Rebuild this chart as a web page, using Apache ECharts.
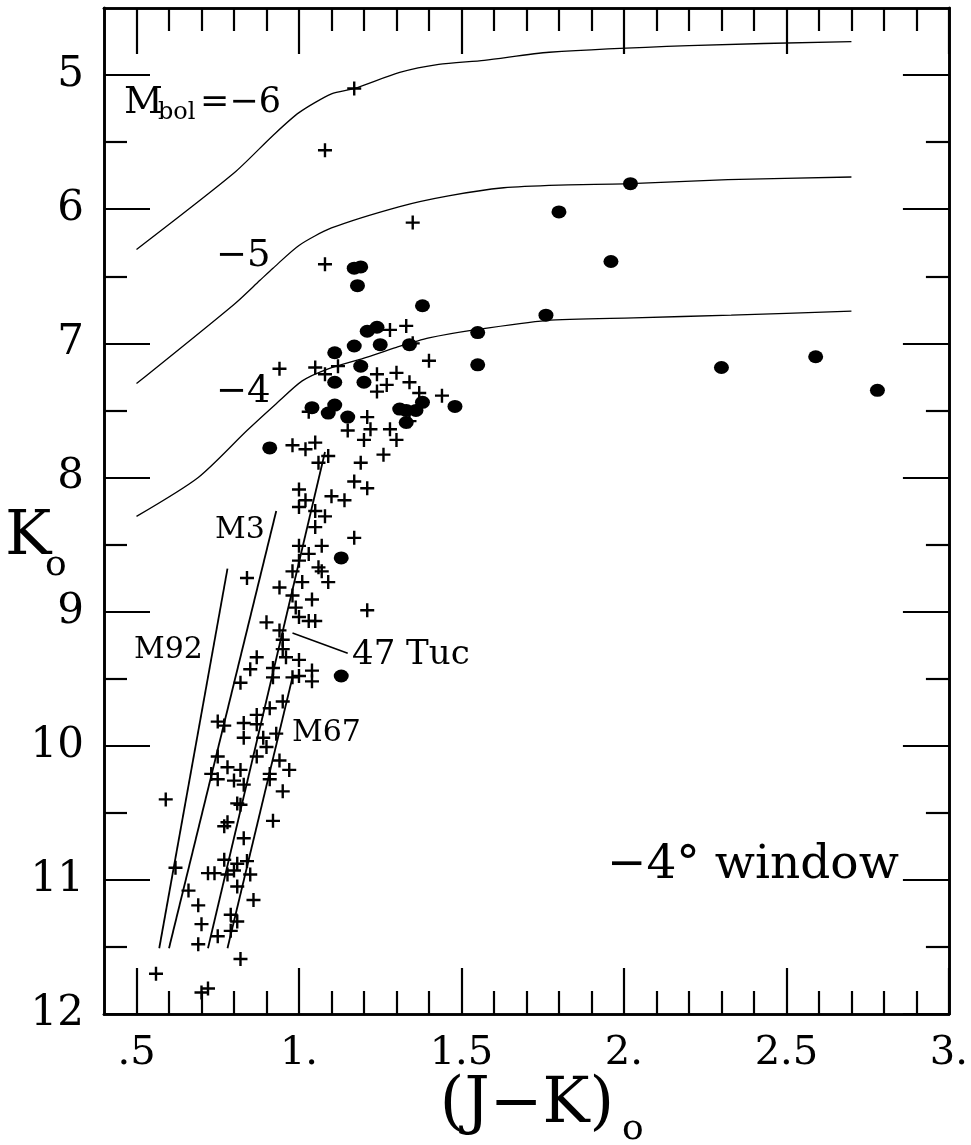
<!DOCTYPE html>
<html>
<head>
<meta charset="utf-8">
<script src="https://cdn.jsdelivr.net/npm/echarts@6/dist/echarts.min.js"></script>
<style>
  html, body { margin: 0; padding: 0; background: #fff; }
  #chart { width: 971px; height: 1145px; }
</style>
</head>
<body>
<div id="chart"></div>
<script>
// Axis ticks and labels
const xMajorTicks = [0.5, 1.0, 1.5, 2.0, 2.5, 3.0];
const xTickLabels = ['.5', '1.', '1.5', '2.', '2.5', '3.'];
const yMajorTicks = [5, 6, 7, 8, 9, 10, 11, 12];
const yTickLabels = ['5', '6', '7', '8', '9', '10', '11', '12'];
const yMinorTicks = [5.5, 6.5, 7.5, 8.5, 9.5, 10.5, 11.5];

// Lines of constant bolometric magnitude  [(J-K)o, Ko]
const mbolMinus6 = [[0.50, 6.30], [0.80, 5.73], [0.92, 5.45], [1.00, 5.28], [1.10, 5.14], [1.17, 5.10],
  [1.31, 4.98], [1.43, 4.92], [1.57, 4.89], [1.77, 4.83], [2.20, 4.78], [2.70, 4.75]];
const mbolMinus5 = [[0.50, 7.30], [0.80, 6.71], [0.88, 6.53], [0.92, 6.44], [1.00, 6.27], [1.10, 6.14],
  [1.31, 5.98], [1.46, 5.90], [1.63, 5.84], [1.80, 5.82], [2.02, 5.81], [2.32, 5.78], [2.70, 5.76]];
const mbolMinus4 = [[0.50, 8.29], [0.69, 8.00], [0.84, 7.65], [0.93, 7.45], [1.01, 7.28], [1.09, 7.19],
  [1.20, 7.11], [1.30, 7.03], [1.40, 6.96], [1.54, 6.90], [1.76, 6.83], [2.03, 6.81], [2.33, 6.79], [2.70, 6.76]];

// Globular / open cluster giant branches
const branchM92 = [[0.57, 11.51], [0.78, 8.68]];
const branchM3 = [[0.60, 11.51], [0.93, 8.25]];
const branch47Tuc = [[0.72, 11.51], [1.08, 7.81]];
const branchM67 = [[0.78, 11.51], [0.98, 9.49]];
const leader47Tuc = [[0.98, 9.16], [1.15, 9.31]];

// Stars: crosses and filled circles
const crossStars = [
  [1.17, 5.10], [1.08, 5.56], [1.35, 6.10], [1.08, 6.41], [1.28, 6.90], [1.33, 6.87], [1.35, 7.00],
  [0.94, 7.19], [1.05, 7.18], [1.08, 7.23], [1.12, 7.17], [1.24, 7.23], [1.30, 7.22], [1.40, 7.13],
  [1.27, 7.31], [1.24, 7.36], [1.34, 7.29], [1.37, 7.37], [1.44, 7.39], [1.03, 7.51], [1.21, 7.55],
  [1.15, 7.65], [1.22, 7.64], [1.28, 7.64], [1.20, 7.72], [1.30, 7.72], [1.26, 7.83], [0.98, 7.76],
  [1.02, 7.79], [1.05, 7.74], [1.09, 7.84], [1.06, 7.89], [1.19, 7.89], [1.17, 8.03], [1.21, 8.08],
  [1.00, 8.09], [1.02, 8.17], [1.00, 8.22], [1.10, 8.14], [1.14, 8.17], [1.05, 8.25], [1.08, 8.29],
  [1.05, 8.37], [1.17, 8.45], [1.07, 8.51], [1.00, 8.51], [1.03, 8.57], [1.00, 8.62], [1.06, 8.67],
  [1.07, 8.70], [1.09, 8.78], [1.01, 8.78], [0.98, 8.70], [0.94, 8.82], [0.84, 8.75], [1.04, 8.91],
  [0.98, 8.88], [0.99, 8.97], [1.00, 9.04], [1.03, 9.07], [1.05, 9.07], [1.21, 8.99], [0.90, 9.08],
  [0.94, 9.14], [0.95, 9.21], [0.95, 9.28], [0.96, 9.34], [1.00, 9.36], [0.87, 9.34], [0.85, 9.43],
  [0.82, 9.53], [0.92, 9.42], [0.92, 9.49], [0.98, 9.49], [1.00, 9.48], [1.04, 9.44], [1.04, 9.52],
  [0.95, 9.67], [0.91, 9.72], [0.87, 9.77], [0.83, 9.83], [0.75, 9.82], [0.77, 9.85], [0.83, 9.94],
  [0.87, 9.84], [0.89, 9.94], [0.93, 9.91], [0.90, 10.01], [0.87, 10.08], [0.75, 10.08], [0.94, 10.11],
  [0.97, 10.18], [0.78, 10.16], [0.82, 10.18], [0.73, 10.21], [0.91, 10.21], [0.59, 10.40], [0.75, 10.25],
  [0.80, 10.26], [0.83, 10.29], [0.91, 10.25], [0.95, 10.34], [0.81, 10.43], [0.82, 10.44], [0.92, 10.56],
  [0.78, 10.57], [0.77, 10.60], [0.83, 10.69], [0.77, 10.85], [0.84, 10.86], [0.81, 10.88], [0.72, 10.95],
  [0.74, 10.95], [0.78, 10.96], [0.80, 10.93], [0.85, 10.96], [0.62, 10.91], [0.81, 11.05], [0.66, 11.08],
  [0.86, 11.15], [0.69, 11.19], [0.79, 11.26], [0.81, 11.31], [0.70, 11.33], [0.79, 11.38], [0.75, 11.42],
  [0.69, 11.48], [0.82, 11.59], [0.56, 11.70], [0.72, 11.81], [0.70, 11.84], [1.34, 7.58]
];
const dotStars = [
  [1.17, 6.44], [1.19, 6.43], [1.18, 6.57], [1.38, 6.72], [1.80, 6.02], [2.02, 5.81], [1.96, 6.39],
  [1.76, 6.79], [1.55, 6.92], [1.55, 7.16], [2.30, 7.18], [2.59, 7.10], [2.78, 7.35], [1.21, 6.91],
  [1.24, 6.88], [1.17, 7.02], [1.25, 7.01], [1.11, 7.07], [1.34, 7.01], [1.19, 7.17], [1.11, 7.29],
  [1.20, 7.29], [1.04, 7.48], [1.11, 7.46], [1.09, 7.52], [1.15, 7.55], [1.31, 7.49], [1.33, 7.50],
  [1.36, 7.50], [1.38, 7.44], [1.48, 7.47], [1.33, 7.59], [0.91, 7.78], [1.13, 8.60], [1.13, 9.48]
];

const SERIF = '"DejaVu Serif", "Liberation Serif", serif';
const INK = '#000';

const xMinorTicks = [];
for (let i = 5; i <= 29; i++) { if (i % 5 !== 0) xMinorTicks.push(i / 10); }

function labelFor(ticks, labels) {
  return v => { const i = ticks.findIndex(t => Math.abs(t - v) < 1e-6); return i >= 0 ? labels[i] : ''; };
}

function xAxisDef(position, ticks, len, withLabels) {
  return {
    type: 'value', position, min: 0.4, max: 3.0,
    axisLine: { show: true, onZero: false, lineStyle: { color: INK, width: 2.6 } },
    axisTick: { show: true, inside: true, length: len, customValues: ticks, lineStyle: { color: INK, width: 2.2 } },
    axisLabel: withLabels ? {
      show: true, customValues: xMajorTicks, formatter: labelFor(xMajorTicks, xTickLabels),
      margin: 20, color: INK, fontFamily: SERIF, fontSize: 40
    } : { show: false },
    splitLine: { show: false }
  };
}
function yAxisDef(position, ticks, len, withLabels) {
  return {
    type: 'value', position, min: 4.5, max: 12, inverse: true,
    axisLine: { show: true, onZero: false, lineStyle: { color: INK, width: 2.6 } },
    axisTick: { show: true, inside: true, length: len, customValues: ticks, lineStyle: { color: INK, width: 2.2 } },
    axisLabel: withLabels ? {
      show: true, customValues: yMajorTicks, formatter: labelFor(yMajorTicks, yTickLabels),
      margin: 20, color: INK, fontFamily: SERIF, fontSize: 42
    } : { show: false },
    splitLine: { show: false }
  };
}

function curve(data, width) {
  return {
    type: 'line', data, xAxisIndex: 0, yAxisIndex: 0, symbol: 'none', smooth: 0.25,
    lineStyle: { color: INK, width }, silent: true, z: 3
  };
}

// plus-sign marker drawn as a filled cross
const crossPath = 'path://M0 5.8H14V8.2H0Z M5.8 0H8.2V14H5.8Z';

const chart = echarts.init(document.getElementById('chart'), null, { renderer: 'canvas' });

function txt(x, y, text, size, align, vAlign) {
  return {
    type: 'text', x, y, silent: true, z: 10,
    style: { text, fill: INK, font: size + 'px ' + SERIF, textAlign: align || 'left', textVerticalAlign: vAlign || 'middle' }
  };
}

chart.setOption({
  backgroundColor: '#fff',
  animation: false,
  grid: { left: 104, right: 12, top: 8, bottom: 131, containLabel: false },
  xAxis: [
    xAxisDef('bottom', xMajorTicks, 46, true),
    xAxisDef('bottom', xMinorTicks, 23, false),
    xAxisDef('top', xMajorTicks, 46, false),
    xAxisDef('top', xMinorTicks, 23, false)
  ],
  yAxis: [
    yAxisDef('left', yMajorTicks, 46, true),
    yAxisDef('left', yMinorTicks, 23, false),
    yAxisDef('right', yMajorTicks, 46, false),
    yAxisDef('right', yMinorTicks, 23, false)
  ],
  series: [
    curve(mbolMinus6, 1.3),
    curve(mbolMinus5, 1.3),
    curve(mbolMinus4, 1.3),
    curve(branchM92, 1.8),
    curve(branchM3, 1.8),
    curve(branch47Tuc, 1.8),
    curve(branchM67, 1.8),
    curve(leader47Tuc, 1.5),
    {
      type: 'scatter', data: crossStars, symbol: crossPath, symbolSize: 14,
      itemStyle: { color: INK, opacity: 1 }, silent: true, z: 4
    },
    {
      type: 'scatter', data: dotStars, symbol: 'circle', symbolSize: [15, 13],
      itemStyle: { color: INK, opacity: 1 }, silent: true, z: 5
    }
  ],
  graphic: [
    // axis titles
    txt(5, 538, 'K', 62, 'left', 'middle'),
    txt(45, 566, 'o', 36, 'left', 'middle'),
    txt(527, 1106, '(J\u2212K)', 63, 'center', 'middle'),
    txt(622, 1130, 'o', 36, 'left', 'middle'),
    // bolometric magnitude labels
    txt(124, 103, 'M', 38, 'left', 'middle'),
    txt(158, 113, 'bol', 24, 'left', 'middle'),
    txt(200, 103, '=\u22126', 35, 'left', 'middle'),
    txt(216, 256, '\u22125', 37, 'left', 'middle'),
    txt(216, 392, '\u22124', 37, 'left', 'middle'),
    // cluster labels
    txt(215, 530, 'M3', 30, 'left', 'middle'),
    txt(134, 650, 'M92', 30, 'left', 'middle'),
    txt(352, 655, '47 Tuc', 34, 'left', 'middle'),
    txt(292, 733, 'M67', 30, 'left', 'middle'),
    // field label
    txt(607, 866, '\u22124\u00b0 window', 47, 'left', 'middle')
  ]
});
</script>
</body>
</html>
